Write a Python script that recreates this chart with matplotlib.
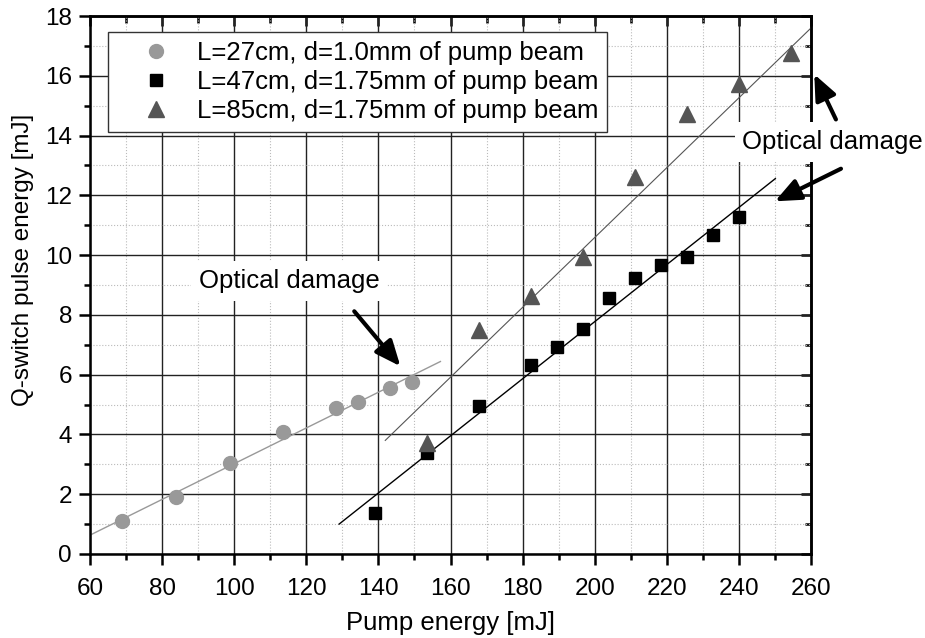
import matplotlib.pyplot as plt
from matplotlib.ticker import MultipleLocator, NullFormatter

plt.rcParams['font.family'] = ['Liberation Sans', 'DejaVu Sans']

# L=27cm, d=1.0mm of pump beam
pump_27 = [68.9, 83.8, 98.7, 113.6, 128.2, 134.3, 143.1, 149.2]
qs_27 = [1.12, 1.90, 3.04, 4.09, 4.88, 5.10, 5.57, 5.77]

# L=47cm, d=1.75mm of pump beam
pump_47 = [139.0, 153.5, 167.9, 182.2, 189.4, 196.7, 204.0, 211.1, 218.3, 225.6, 232.7, 239.9]
qs_47 = [1.36, 3.39, 4.96, 6.33, 6.92, 7.54, 8.55, 9.23, 9.66, 9.95, 10.66, 11.26]

# L=85cm, d=1.75mm of pump beam
pump_85 = [153.5, 167.9, 182.2, 196.7, 211.1, 225.6, 240.0, 254.4]
qs_85 = [3.71, 7.50, 8.64, 9.95, 12.60, 14.73, 15.73, 16.77]

# linear fits, end points
fit_27_x = [60.0, 157.2]
fit_27_y = [0.63, 6.44]
fit_47_x = [129.1, 250.1]
fit_47_y = [1.00, 12.56]
fit_85_x = [141.9, 260.0]
fit_85_y = [3.80, 17.60]

labels = ['L=27cm, d=1.0mm of pump beam',
          'L=47cm, d=1.75mm of pump beam',
          'L=85cm, d=1.75mm of pump beam']

fig = plt.figure(figsize=(9.25, 6.38), dpi=100)
ax = fig.add_axes([0.0973, 0.1317, 0.7795, 0.8432])

# grid
ax.set_axisbelow(True)
ax.grid(True, which='major', color='#222222', linewidth=1.0)
ax.grid(True, which='minor', color='#bbbbbb', linewidth=0.8, linestyle=':')

# fit lines
ax.plot(fit_27_x, fit_27_y, color='#999999', linewidth=1.0, zorder=2)
ax.plot(fit_47_x, fit_47_y, color='black', linewidth=1.0, zorder=2)
ax.plot(fit_85_x, fit_85_y, color='#555555', linewidth=0.8, zorder=2)

# data points
ax.plot(pump_27, qs_27, 'o', color='#999999', markersize=10, label=labels[0], zorder=3)
ax.plot(pump_47, qs_47, 's', color='black', markersize=8, label=labels[1], zorder=3)
ax.plot(pump_85, qs_85, '^', color='#555555', markersize=11.5, label=labels[2], zorder=3)

ax.set_xlim(60, 260)
ax.set_ylim(0, 18)
ax.xaxis.set_major_locator(MultipleLocator(20))
ax.xaxis.set_minor_locator(MultipleLocator(10))
ax.yaxis.set_major_locator(MultipleLocator(2))
ax.yaxis.set_minor_locator(MultipleLocator(1))

ax.tick_params(which='both', direction='out', top=False, right=False, width=1.8,
               labelsize=17.5)
ax.tick_params(which='major', length=8)
ax.tick_params(which='minor', length=4.5)
ax.tick_params(axis='x', pad=9)
ax.tick_params(axis='y', pad=5)
for sp in ax.spines.values():
    sp.set_linewidth(1.8)

# inward ticks on top and right
top = ax.secondary_xaxis('top')
top.xaxis.set_major_locator(MultipleLocator(20))
top.xaxis.set_minor_locator(MultipleLocator(10))
top.xaxis.set_major_formatter(NullFormatter())
top.tick_params(which='both', direction='in', width=1.8)
top.tick_params(which='major', length=7)
top.tick_params(which='minor', length=5)
top.spines['top'].set_linewidth(1.8)

right = ax.secondary_yaxis('right')
right.yaxis.set_major_locator(MultipleLocator(2))
right.yaxis.set_minor_locator(MultipleLocator(1))
right.yaxis.set_major_formatter(NullFormatter())
right.tick_params(which='both', direction='in', width=1.8)
right.tick_params(which='major', length=7)
right.tick_params(which='minor', length=4)
right.spines['right'].set_linewidth(1.8)

ax.set_xlabel('Pump energy [mJ]', fontsize=18.5)
ax.xaxis.set_label_coords(0.5, -0.106)
ax.set_ylabel('Q-switch pulse energy [mJ]', fontsize=17.5)
ax.yaxis.set_label_coords(-0.078, 0.546)

leg = ax.legend(loc='upper left', bbox_to_anchor=(0.025, 0.970), borderaxespad=0,
                fontsize=18.5, frameon=True, fancybox=False, framealpha=1,
                edgecolor='#333333', borderpad=0.35, labelspacing=0.2,
                handlelength=3.0, handletextpad=0.1)
leg.get_frame().set_linewidth(1.0)
leg.set_zorder(5)

# annotations
arrow = dict(arrowstyle='-|>,head_length=0.7,head_width=0.3', color='black', lw=3,
             mutation_scale=22, shrinkA=0, shrinkB=0)
ax.text(115.3, 9.13, 'Optical damage', fontsize=18.5, ha='center', va='center',
        bbox=dict(boxstyle='square,pad=0.3', facecolor='white', edgecolor='none'),
        zorder=4)
ax.annotate('', xy=(146.1, 6.28), xytext=(133.3, 8.12), arrowprops=arrow, zorder=4)

ax.text(266.0, 13.78, 'Optical damage', fontsize=18.5, ha='center', va='center',
        bbox=dict(boxstyle='square,pad=0.3', facecolor='white', edgecolor='none'),
        zorder=4, clip_on=False)
ax.annotate('', xy=(260.9, 16.05), xytext=(266.9, 14.54), arrowprops=arrow,
            zorder=4, annotation_clip=False)
ax.annotate('', xy=(250.0, 11.8), xytext=(268.3, 12.89), arrowprops=arrow,
            zorder=4, annotation_clip=False)

fig.savefig('out.png', dpi=100)
